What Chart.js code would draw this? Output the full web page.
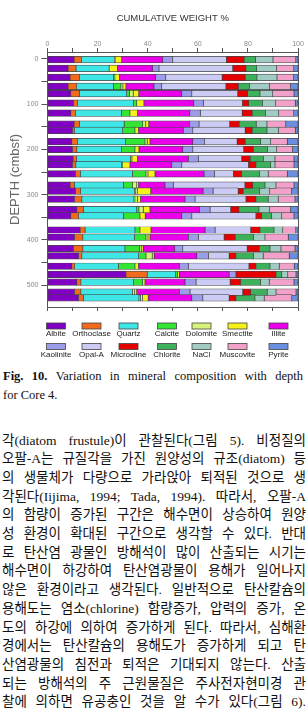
<!DOCTYPE html>
<html lang="ko">
<head>
<meta charset="utf-8">
<title>Fig. 10 mineral composition</title>
<script src="https://cdn.jsdelivr.net/npm/chart.js@4.4.1/dist/chart.umd.min.js"></script>
<style>
    html, body { margin: 0; padding: 0; background: #fff; }
    body { width: 308px; height: 720px; overflow: hidden; position: relative; }
    #mineralChart { position: absolute; left: 0; top: 0; }
    .caption { position: absolute; left: 3px; top: 367px; width: 300px;
        font: 12.5px/19px 'Liberation Serif', 'Times New Roman', serif; color: #111; }
    .text { position: absolute; left: 2px; top: 431.5px; width: 304px;
        font: 13.5px/18.7px 'Liberation Serif', 'Noto Sans CJK KR', serif; color: #111; }
    .caption div, .text div { white-space: nowrap; text-align: justify; text-align-last: justify; }
    .caption div.last { text-align-last: left; }
</style>
</head>
<body>
<canvas id="mineralChart" width="308" height="362"></canvas>

<div class="caption">
    <div><b>Fig. 10.</b> Variation in mineral composition with depth</div>
    <div class="last">for Core 4.</div>
</div>

<div class="text">
    <div>각(diatom frustule)이 관찰된다(그림 5). 비정질의</div>
    <div>오팔-A는 규질각을 가진 원양성의 규조(diatom) 등</div>
    <div>의 생물체가 다량으로 가라앉아 퇴적된 것으로 생</div>
    <div>각된다(Iijima, 1994; Tada, 1994). 따라서, 오팔-A</div>
    <div>의 함량이 증가된 구간은 해수면이 상승하여 원양</div>
    <div>성 환경이 확대된 구간으로 생각할 수 있다. 반대</div>
    <div>로 탄산염 광물인 방해석이 많이 산출되는 시기는</div>
    <div>해수면이 하강하여 탄산염광물이 용해가 일어나지</div>
    <div>않은 환경이라고 생각된다. 일반적으로 탄산칼슘의</div>
    <div>용해도는 염소(chlorine) 함량증가, 압력의 증가, 온</div>
    <div>도의 하강에 의하여 증가하게 된다. 따라서, 심해환</div>
    <div>경에서는 탄산칼슘의 용해도가 증가하게 되고 탄</div>
    <div>산염광물의 침전과 퇴적은 기대되지 않는다. 산출</div>
    <div>되는 방해석의 주 근원물질은 주사전자현미경 관</div>
    <div>찰에 의하면 유공충인 것을 알 수가 있다(그림 6).</div>
</div>

<script>
// sample depths (cmbsf)
var depths = [2, 21, 41, 61, 77, 98, 120, 144, 158, 183, 200, 221, 234, 254,
    279, 292, 310, 333, 347, 378, 394, 419, 435, 458, 476, 493, 515, 528];

// weight % of each mineral, one value per depth
var albite     = [10.6, 8.2, 9, 8.2, 9.3, 10.4, 9.3, 10.6, 10, 9.7, 10, 10.2, 10, 11.2, 9, 11.2, 10.8, 11.7, 9.3, 13, 10.8, 10.4, 12.4, 9.7, 31.3, 11.7, 10.8, 12.4];
var orthoclase = [3.0, 3.2, 3.8, 3.4, 3.4, 1.6, 1.9, 2.1, 0.8, 2.3, 1.7, 1.4, 1.3, 1.9, 1.7, 2, 2.9, 2.6, 3.1, 2, 3.3, 3.7, 1.3, 1.1, 8.5, 1.6, 2.5, 1.9];
var quartz     = [13.1, 13.2, 13.5, 14.7, 18.9, 22.3, 18.3, 17.9, 19.2, 19.2, 17.9, 21.5, 18.2, 20.8, 19.6, 21.5, 20.8, 21.3, 17.9, 19.9, 20.6, 16.8, 22.7, 17.5, 11.3, 21, 20.6, 22.2];
var calcite    = [0, 0, 0.6, 3, 1.1, 1.3, 3.4, 7.4, 4.9, 7.7, 5.3, 0.6, 0.5, 5.4, 3.7, 0.5, 0.4, 0.9, 6.6, 2, 4.6, 5.8, 2.9, 6.6, 0.8, 3.7, 0, 0.6];
var dolomite   = [0.5, 0, 0, 0.8, 1.5, 0, 0, 1.2, 0, 0.9, 0, 0, 0, 0.8, 1.6, 0.6, 1, 1.7, 0, 0, 0.8, 0.7, 2.5, 0, 0, 0, 0.9, 0.8];
var smectite   = [2.4, 3.3, 1.8, 1.2, 2.2, 2.9, 3, 1.2, 1.4, 1.1, 1.6, 2.2, 2.9, 2.8, 0.7, 5.4, 1.2, 2.7, 2.1, 4.4, 0.8, 0.8, 0.8, 1.4, 0.7, 0.9, 0.8, 2.3];
var illite     = [16.4, 14.1, 14.5, 11.2, 17.2, 19.9, 20.9, 16.3, 17.9, 17.1, 17.5, 20.3, 16.7, 19.6, 10.6, 20.9, 17.8, 19.7, 14.6, 21.6, 15.3, 12.6, 17, 16.3, 19.9, 16, 17, 17.4];
var kaolinite  = [4, 2.5, 4, 3.1, 4, 3.8, 4.2, 3.8, 3.8, 4.7, 4, 4, 4, 4.1, 3.3, 4, 4, 4.3, 4, 4, 4, 3.2, 4.6, 3.6, 2.7, 4.4, 4.3, 4.4];
var opalA      = [21.4, 29.4, 22.5, 25.6, 18.3, 15.6, 16.7, 12.2, 20.9, 13, 20.3, 17.3, 26.6, 7.6, 28.6, 10, 20.3, 8.2, 25.6, 14.2, 10.3, 25.7, 8.3, 24.2, 0, 13.6, 21, 10.5];
var microcline = [7.1, 5.3, 9.2, 5, 4, 2.5, 4, 3.8, 2.8, 3.2, 3.9, 3.4, 3, 3.3, 3.1, 2, 4, 3.3, 2.3, 3.7, 4.4, 4.9, 2.7, 2.8, 16, 4.2, 3.2, 2.7];
var chlorite   = [4.6, 4.3, 4.7, 4.4, 4.9, 5.5, 5.3, 6.8, 5.9, 6.2, 5.6, 5.3, 5.9, 7.1, 4.9, 6.6, 4.9, 8, 4, 5.6, 7.3, 4.2, 7, 5.6, 2.3, 8, 6.6, 7.6];
var nacl       = [6.9, 7.9, 8, 8, 5.1, 5.3, 5.3, 4.3, 4.6, 4, 3.7, 4.6, 1.7, 3.5, 4.4, 4, 4, 4.3, 4, 3.5, 4.6, 4.4, 3.9, 3.7, 2.4, 3.4, 3.5, 3.7];
var muscovite  = [9.1, 6.9, 6.6, 8.4, 8.5, 7.8, 6, 7.5, 6.7, 6.6, 6.3, 7.6, 7.6, 7.6, 7.2, 8.7, 6.7, 8.3, 4.9, 5.2, 9.3, 5.6, 10.4, 6, 3.3, 9.9, 8, 11];
var pyrite     = [0.9, 1.7, 1.8, 3, 1.6, 1.1, 1.7, 4.9, 1.1, 4.3, 2.2, 1.6, 1.6, 4.3, 1.6, 2.6, 1.2, 3, 1.6, 0.9, 3.9, 1.2, 3.5, 1.5, 0.8, 1.6, 0.8, 2.5];

var mineralNames = ['Albite', 'Orthoclase', 'Quartz', 'Calcite', 'Dolomite', 'Smectite', 'Illite',
    'Kaolinite', 'Opal-A', 'Microcline', 'Chlorite', 'NaCl', 'Muscovite', 'Pyrite'];
var mineralValues = [albite, orthoclase, quartz, calcite, dolomite, smectite, illite,
    kaolinite, opalA, microcline, chlorite, nacl, muscovite, pyrite];
var mineralColors = ['#8000c4', '#f26b1d', '#3fe6e6', '#33e633', '#d6f27c', '#f7f21a', '#ea00ea',
    '#9c9ceb', '#cbcbf4', '#e60000', '#3db05c', '#a0ccc4', '#f2a2ca', '#6b8fe0'];

// tick labels
var weightTicks = [0, 10, 20, 30, 40, 50, 60, 70, 80, 90, 100];
var depthTicks = [0, 50, 100, 150, 200, 250, 300, 350, 400, 450, 500];

Chart.defaults.font.family = "'Liberation Sans', Arial, sans-serif";

// legend drawn below the plot: box on top, name under it
var boxLegend = {
    id: 'boxLegend',
    afterDraw: function (chart) {
        var ctx = chart.ctx;
        var colX = [56, 91.5, 128.5, 167, 201.5, 237.5, 278.5];
        var rowY = [326, 346.5];
        ctx.save();
        ctx.font = "8px 'Liberation Sans', Arial, sans-serif";
        ctx.textAlign = 'center';
        ctx.textBaseline = 'middle';
        chart.data.datasets.forEach(function (ds, k) {
            var cx = colX[k % 7];
            var cy = rowY[Math.floor(k / 7)];
            ctx.fillStyle = ds.backgroundColor;
            ctx.fillRect(cx - 9.5, cy - 3, 19, 6);
            ctx.strokeStyle = '#444';
            ctx.lineWidth = 0.8;
            ctx.strokeRect(cx - 9.5, cy - 3, 19, 6);
            ctx.fillStyle = '#222';
            ctx.fillText(ds.label, cx, cy + 8);
        });
        ctx.restore();
    }
};

var ctx = document.getElementById('mineralChart').getContext('2d');
var mineralChart = new Chart(ctx, {
    type: 'bar',
    data: {
        datasets: mineralValues.map(function (vals, k) {
            return {
                label: mineralNames[k],
                data: depths.map(function (d, i) { return { x: vals[i], y: d }; }),
                backgroundColor: mineralColors[k],
                borderColor: '#444',
                borderWidth: 0.7,
                borderSkipped: false,
                barThickness: 6.5
            };
        })
    },
    options: {
        indexAxis: 'y',
        responsive: false,
        animation: false,
        layout: { padding: { left: 0, right: 0, top: 0, bottom: 47 } },
        plugins: {
            legend: { display: false },
            tooltip: { enabled: false },
            title: {
                display: true,
                text: 'CUMULATIVE WEIGHT %',
                fullSize: false,
                color: '#333',
                font: { size: 9.5, weight: 'normal' },
                padding: { top: 13, bottom: 13.6 }
            }
        },
        scales: {
            x: {
                type: 'linear',
                position: 'top',
                stacked: true,
                min: 0,
                max: 100,
                afterBuildTicks: function (s) { s.ticks = weightTicks.map(function (v) { return { value: v }; }); },
                afterFit: function (s) { s.height = 14; },
                ticks: {
                    autoSkip: false,
                    maxRotation: 0,
                    padding: 0,
                    color: '#888',
                    font: { size: 7 },
                    callback: function (v) { return v % 20 === 0 ? v : ''; }
                },
                grid: { drawOnChartArea: false, drawTicks: true, tickLength: 4, color: '#555' },
                border: { display: true, color: '#555', width: 1 }
            },
            x2: {
                type: 'linear',
                position: 'bottom',
                min: 0,
                max: 100,
                afterBuildTicks: function (s) { s.ticks = weightTicks.map(function (v) { return { value: v }; }); },
                afterFit: function (s) { s.height = 8; },
                ticks: { display: false },
                grid: { drawOnChartArea: false, drawTicks: true, tickLength: 4, color: '#555' },
                border: { display: true, color: '#555', width: 1 }
            },
            y: {
                type: 'linear',
                reverse: true,
                stacked: true,
                offset: false,
                min: -15,
                max: 548,
                afterBuildTicks: function (s) { s.ticks = depthTicks.map(function (v) { return { value: v }; }); },
                afterFit: function (s) { s.width = 47.5; },
                ticks: {
                    autoSkip: false,
                    padding: 3,
                    color: '#888',
                    font: { size: 7 },
                    callback: function (v) { return v % 100 === 0 ? v : ''; }
                },
                grid: { offset: false, drawOnChartArea: false, drawTicks: true, tickLength: 6, color: '#555' },
                border: { display: true, color: '#555', width: 1 },
                title: {
                    display: true,
                    text: 'DEPTH (cmbsf)',
                    color: '#666',
                    font: { size: 13 },
                    padding: { top: 8, bottom: 0 }
                }
            },
            y2: {
                type: 'linear',
                position: 'right',
                min: -15,
                max: 548,
                afterFit: function (s) { s.width = 10; },
                ticks: { display: false },
                grid: { display: false },
                border: { display: true, color: '#555', width: 1 }
            }
        }
    },
    plugins: [boxLegend]
});
</script>
</body>
</html>
